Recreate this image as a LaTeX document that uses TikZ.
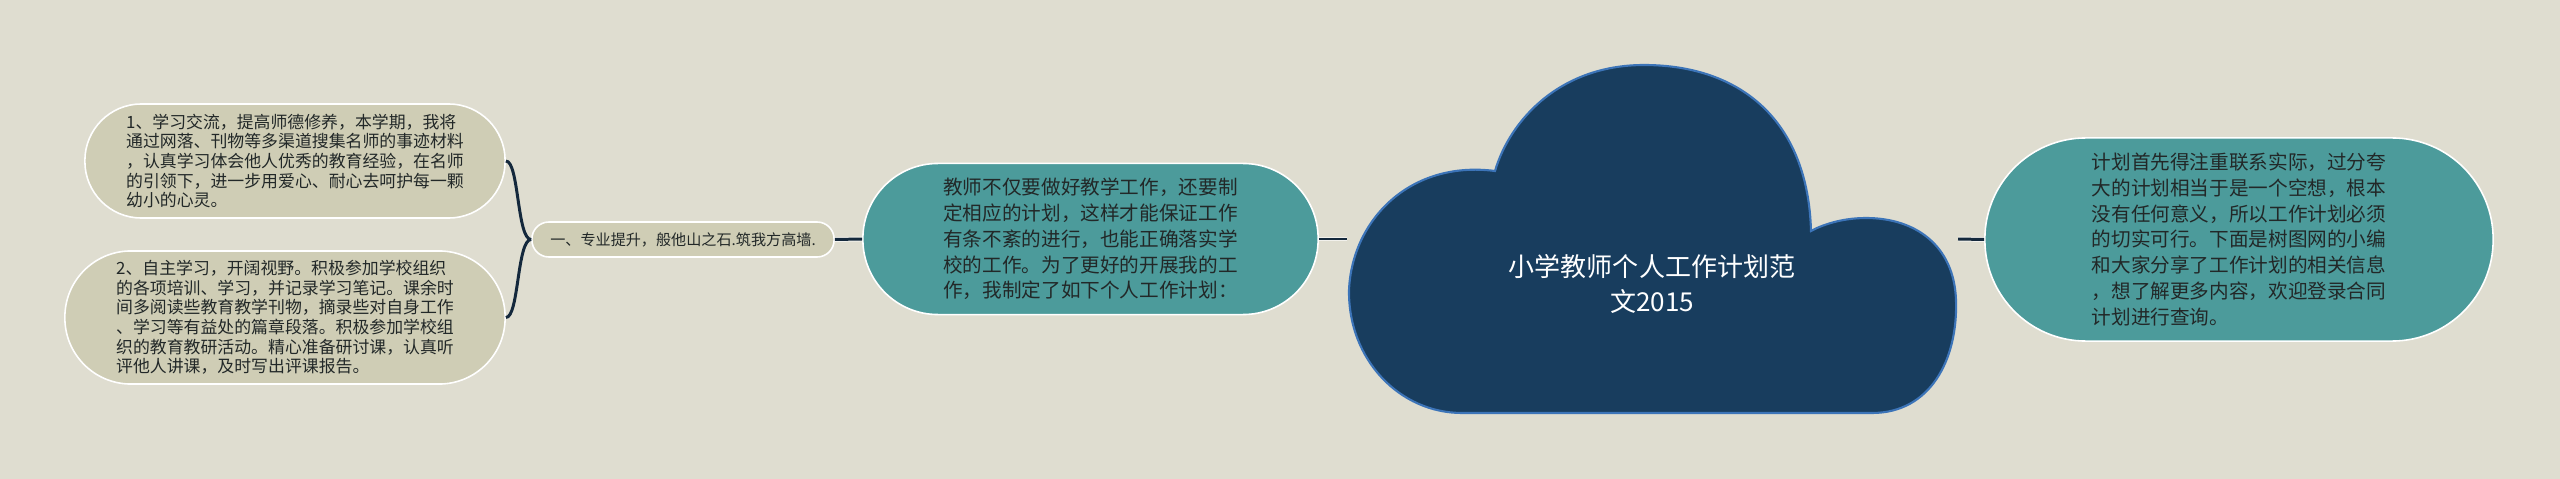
\documentclass[tikz,border=0pt]{standalone}
\usepackage{fontspec}
\setmainfont{Noto Sans CJK SC}
\definecolor{bg}{HTML}{DFDDD0}
\definecolor{oliveF}{HTML}{CFCDB5}
\definecolor{tealF}{HTML}{4C9B9B}
\definecolor{navyC}{HTML}{183D5E}
\definecolor{edgeC}{HTML}{3C74B8}
\definecolor{lineC}{HTML}{14283C}
\definecolor{txt}{HTML}{222828}
\begin{document}
\begin{tikzpicture}[x=0.01cm,y=-0.01cm,
  pill/.style={draw=white, line width=0.45pt, inner sep=0pt, align=left, text=txt},
  olivebox/.style={pill, fill=oliveF, font=\fontsize{4.8}{5.6}\selectfont},
  tealbox/.style={pill, fill=tealF, font=\fontsize{5.58}{7.35}\selectfont},
  conn/.style={draw=lineC, line width=0.85pt},
  straightconn/.style={conn, preaction={draw=white!60!bg, line width=1.4pt}}]
\fill[bg] (0,0) rectangle (2560,479);
\useasboundingbox (0,0) rectangle (2560,479);

\node[olivebox, minimum width=4.2cm, minimum height=1.14cm, rounded corners=0.565cm] (n1) at (295,161)
{1、学习交流，提高师德修养，本学期，我将\\通过网落、刊物等多渠道搜集名师的事迹材料\\，认真学习体会他人优秀的教育经验，在名师\\的引领下，进一步用爱心、耐心去呵护每一颗\\幼小的心灵。};

\node[olivebox, minimum width=4.4cm, minimum height=1.33cm, rounded corners=0.66cm] (n2) at (285,317.5)
{2、自主学习，开阔视野。积极参加学校组织\\的各项培训、学习，并记录学习笔记。课余时\\间多阅读些教育教学刊物，摘录些对自身工作\\、学习等有益处的篇章段落。积极参加学校组\\织的教育教研活动。精心准备研讨课，认真听\\评他人讲课，及时写出评课报告。};

\node[pill, fill=oliveF, font=\fontsize{4.3}{5}\selectfont, minimum width=3.02cm, minimum height=0.35cm, rounded corners=0.17cm] (n3) at (683,239.5)
{一、专业提升，般他山之石.筑我方高墙.};

\node[tealbox, minimum width=4.55cm, minimum height=1.51cm, rounded corners=0.75cm] (tl) at (1090.5,239)
{教师不仅要做好教学工作，还要制\\定相应的计划，这样才能保证工作\\有条不紊的进行，也能正确落实学\\校的工作。为了更好的开展我的工\\作，我制定了如下个人工作计划：};

\node[tealbox, minimum width=5.08cm, minimum height=2.03cm, rounded corners=1.01cm] (tr) at (2239,239.5)
{计划首先得注重联系实际，过分夸\\大的计划相当于是一个空想，根本\\没有任何意义，所以工作计划必须\\的切实可行。下面是树图网的小编\\和大家分享了工作计划的相关信息\\，想了解更多内容，欢迎登录合同\\计划进行查询。};

\coordinate (cL) at (1347,239);
\coordinate (cR) at (1958,239);

\draw[conn] (n3.west) .. controls (517,239.5) and (519,161) .. (n1.east);
\draw[conn] (n3.west) .. controls (517,239.5) and (519,317.5) .. (n2.east);
\draw[straightconn] (n3.east) -- (tl.west);
\draw[straightconn] (tl.east) -- (cL);
\draw[straightconn] (cR) -- (tr.west);

\draw[fill=navyC, draw=edgeC, line width=0.6pt]
  (1462,413) -- (1872,413)
  .. controls (1930,413) and (1958,360) .. (1956,300)
  .. controls (1954,245) and (1915,218) .. (1866,218)
  .. controls (1840,218) and (1820,226) .. (1811,231)
  .. controls (1808,120) and (1740,65) .. (1644,65)
  .. controls (1560,65) and (1510,120) .. (1495,171)
  .. controls (1410,160) and (1352,220) .. (1349,290)
  .. controls (1348,360) and (1400,413) .. (1462,413) -- cycle;

\node[text=white, align=center, inner sep=0pt, font=\fontsize{7.4}{10.2}\selectfont] (title) at (1652,284)
{小学教师个人工作计划范\\文2015};
\end{tikzpicture}
\end{document}
